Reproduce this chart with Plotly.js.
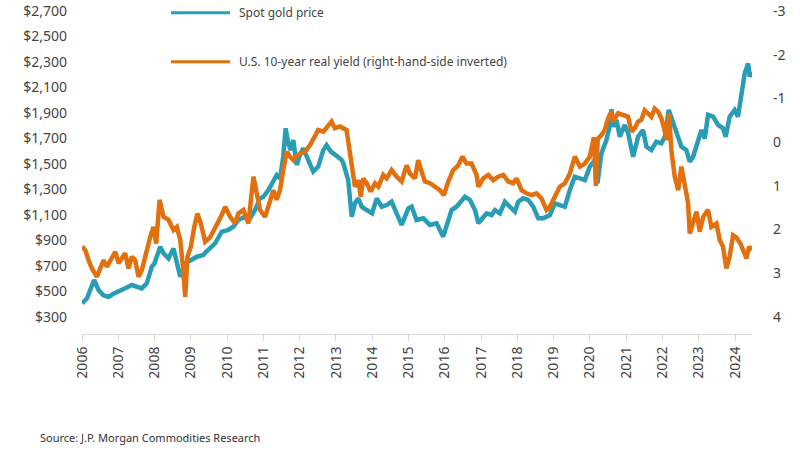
<!DOCTYPE html>
<html>
<head>
<meta charset="utf-8">
<script src="https://cdn.plot.ly/plotly-3.0.1.min.js"></script>
<style>html,body{margin:0;padding:0;background:#fff;}#chart{width:800px;height:453px;}</style>
</head>
<body>
<div id="chart"></div>
<script>
// ---- DATA ----
var goldDates = ["2006-01-01","2006-02-20","2006-05-03","2006-06-16","2006-08-05","2006-09-25","2006-11-14","2007-01-01","2007-03-12","2007-05-18","2007-07-07","2007-08-26","2007-10-15","2007-12-05","2008-01-01","2008-02-27","2008-04-01","2008-05-21","2008-07-10","2008-08-13","2008-09-16","2008-11-05","2009-01-01","2009-03-03","2009-05-08","2009-05-25","2009-09-02","2009-11-08","2010-01-08","2010-03-05","2010-04-24","2010-07-01","2010-08-20","2010-10-09","2010-11-28","2011-01-01","2011-02-20","2011-04-11","2011-05-15","2011-06-17","2011-07-20","2011-08-13","2011-09-09","2011-10-05","2011-10-29","2011-12-02","2011-12-28","2012-02-06","2012-03-28","2012-05-17","2012-07-06","2012-08-26","2012-09-28","2012-11-11","2012-12-28","2013-02-27","2013-03-16","2013-05-04","2013-06-08","2013-07-11","2013-08-14","2013-09-17","2013-11-06","2013-12-30","2014-02-15","2014-04-06","2014-05-26","2014-07-15","2014-09-03","2014-10-24","2014-12-30","2015-02-02","2015-03-23","2015-05-30","2015-08-05","2015-10-11","2015-12-16","2016-01-20","2016-03-10","2016-04-29","2016-06-19","2016-07-22","2016-09-11","2016-10-31","2016-12-04","2016-12-30","2017-02-25","2017-04-16","2017-05-20","2017-07-09","2017-08-28","2017-10-17","2017-12-07","2018-01-10","2018-03-01","2018-04-20","2018-06-09","2018-07-30","2018-09-18","2018-11-24","2019-01-13","2019-03-04","2019-04-24","2019-06-13","2019-08-02","2019-09-22","2019-11-11","2019-12-31","2020-02-20","2020-03-17","2020-04-26","2020-06-15","2020-07-19","2020-08-05","2020-08-22","2020-09-25","2020-10-28","2020-12-17","2021-01-20","2021-03-11","2021-04-30","2021-06-19","2021-07-23","2021-09-11","2021-10-31","2021-12-21","2022-01-24","2022-03-05","2022-04-18","2022-06-08","2022-07-10","2022-08-29","2022-10-02","2022-11-05","2022-12-09","2023-01-28","2023-03-02","2023-04-05","2023-05-25","2023-07-14","2023-09-02","2023-09-29","2023-11-08","2023-12-28","2024-01-31","2024-03-06","2024-04-08","2024-05-12","2024-05-28","2024-06-20"];
var goldPrice = [407,447,590,512,470,457,483,498,525,551,538,525,564,695,721,851,799,760,838,721,616,721,747,773,786,805,878,969,982,1008,1061,1087,1074,1139,1230,1243,1296,1361,1413,1387,1557,1780,1662,1609,1688,1492,1557,1623,1531,1440,1479,1609,1649,1597,1570,1531,1505,1374,1087,1192,1231,1165,1139,1113,1231,1165,1178,1204,1113,1022,1152,1165,1061,1074,1022,1035,930,1008,1139,1165,1218,1243,1218,1139,1035,1061,1113,1100,1139,1113,1204,1165,1126,1204,1231,1218,1165,1074,1074,1100,1192,1178,1165,1296,1400,1387,1374,1479,1531,1348,1583,1688,1793,1930,1793,1845,1714,1806,1741,1557,1714,1767,1636,1609,1675,1662,1714,1924,1819,1714,1636,1609,1518,1557,1649,1767,1701,1885,1871,1806,1780,1714,1871,1924,1871,2028,2211,2289,2185,2224];

var yieldDates = ["2006-01-01","2006-02-03","2006-03-08","2006-04-11","2006-05-31","2006-07-03","2006-08-06","2006-09-09","2006-10-12","2006-12-02","2007-01-04","2007-02-06","2007-03-12","2007-04-14","2007-05-18","2007-06-20","2007-07-24","2007-08-26","2007-09-28","2007-11-18","2007-12-22","2008-01-18","2008-02-21","2008-04-01","2008-05-21","2008-07-10","2008-08-13","2008-09-16","2008-10-13","2008-11-05","2008-11-28","2009-01-01","2009-02-04","2009-03-08","2009-04-11","2009-05-25","2009-07-13","2009-09-02","2009-11-08","2009-12-12","2010-01-31","2010-03-22","2010-04-24","2010-06-14","2010-08-03","2010-09-23","2010-10-26","2010-11-28","2011-01-18","2011-02-20","2011-04-11","2011-05-15","2011-06-17","2011-07-20","2011-08-23","2011-09-25","2011-10-29","2011-12-02","2012-01-04","2012-02-23","2012-04-14","2012-05-17","2012-07-06","2012-08-26","2012-10-15","2012-11-18","2012-12-21","2013-02-10","2013-04-17","2013-05-21","2013-06-17","2013-07-11","2013-08-14","2013-09-07","2013-10-03","2013-11-06","2013-12-16","2014-01-29","2014-03-03","2014-04-22","2014-05-26","2014-07-15","2014-09-03","2014-10-24","2014-12-13","2015-01-16","2015-03-07","2015-04-09","2015-05-13","2015-06-16","2015-08-05","2015-09-24","2015-11-13","2015-12-23","2016-02-05","2016-03-26","2016-05-16","2016-06-28","2016-08-07","2016-09-27","2016-11-16","2016-12-04","2017-01-23","2017-03-14","2017-05-03","2017-06-22","2017-08-11","2017-10-01","2017-11-20","2017-12-24","2018-02-12","2018-04-03","2018-05-23","2018-07-12","2018-09-01","2018-10-21","2018-11-24","2019-01-13","2019-03-04","2019-04-24","2019-06-13","2019-08-02","2019-09-22","2019-11-11","2019-12-31","2020-02-10","2020-03-01","2020-03-20","2020-04-26","2020-05-30","2020-07-02","2020-08-05","2020-08-22","2020-10-11","2020-11-30","2021-01-20","2021-02-23","2021-03-28","2021-04-30","2021-06-02","2021-07-06","2021-08-08","2021-09-11","2021-10-14","2021-11-17","2021-12-21","2022-01-24","2022-02-16","2022-03-08","2022-03-31","2022-05-04","2022-06-08","2022-07-10","2022-08-13","2022-09-16","2022-10-02","2022-11-05","2022-12-09","2023-01-11","2023-02-14","2023-04-05","2023-05-08","2023-06-28","2023-07-31","2023-09-02","2023-10-06","2023-11-08","2023-12-12","2024-01-14","2024-02-24","2024-03-22","2024-04-25","2024-05-21","2024-06-20"];
var realYield = [2.39,2.47,2.70,2.89,3.08,2.89,2.70,2.85,2.70,2.51,2.77,2.66,2.54,2.89,2.62,2.70,3.08,2.93,2.62,2.18,1.94,2.32,1.32,1.71,1.78,2.01,1.94,2.24,2.85,3.54,2.62,2.39,1.94,1.63,1.86,2.28,2.18,1.97,1.67,1.48,1.71,1.86,1.63,1.55,1.86,0.79,1.25,1.55,1.71,1.48,1.10,1.32,1.10,0.64,0.22,0.33,0.41,0.30,0.26,0.22,0.07,-0.08,-0.28,-0.24,-0.36,-0.47,-0.32,-0.36,-0.28,0.18,0.64,1.02,0.87,1.25,0.83,0.94,1.13,0.94,1.02,0.75,0.83,0.64,0.79,0.90,0.53,0.72,0.83,0.41,0.68,0.90,0.94,1.02,1.10,1.21,0.90,0.64,0.53,0.33,0.49,0.49,0.75,1.02,0.83,0.75,0.87,0.79,0.75,0.90,0.94,0.83,1.10,1.17,1.21,1.17,1.29,1.55,1.48,1.25,1.02,0.94,0.72,0.33,0.56,0.49,0.33,-0.11,1.00,-0.08,-0.16,-0.28,-0.54,-0.70,-0.47,-0.66,-0.62,-0.58,-0.24,-0.32,-0.47,-0.51,-0.73,-0.66,-0.58,-0.77,-0.70,-0.54,-0.28,-0.05,-0.66,0.18,0.79,1.10,0.56,0.94,1.40,2.09,1.86,1.59,2.05,1.71,1.55,1.94,1.86,2.24,2.39,2.89,2.62,2.13,2.18,2.32,2.47,2.66,2.39,2.47];

var leftTickVals = [300,500,700,900,1100,1300,1500,1700,1900,2100,2300,2500,2700];
var leftTickText = ["$300","$500","$700","$900","$1,100","$1,300","$1,500","$1,700","$1,900","$2,100","$2,300","$2,500","$2,700"];
var rightTickVals = [-3,-2,-1,0,1,2,3,4];
var rightTickText = ["-3","-2","-1","0","1","2","3","4"];
var seriesNames = ["Spot gold price","U.S. 10-year real yield (right-hand-side inverted)"];
var sourceText = "Source: J.P. Morgan Commodities Research";

// ---- STYLE ----
var BLUE = "#2a9db6", ORANGE = "#e2700f";
var FONT = "'Noto Sans', sans-serif";
var TXT = "#444444";

var traces = [
  {x: goldDates, y: goldPrice, name: seriesNames[0], type: "scatter", mode: "lines",
   line: {color: BLUE, width: 4.5}, yaxis: "y", showlegend: false},
  {x: yieldDates, y: realYield, name: seriesNames[1], type: "scatter", mode: "lines",
   line: {color: ORANGE, width: 4.5}, yaxis: "y2", showlegend: false}
];

var layout = {
  width: 800, height: 453,
  margin: {l: 82, r: 48, t: 11, b: 119},
  paper_bgcolor: "#ffffff", plot_bgcolor: "#ffffff",
  font: {family: FONT, color: TXT, size: 13},
  xaxis: {
    type: "date", range: ["2006-01-01", "2024-06-20"],
    tick0: "2006-01-01", dtick: "M12", tickformat: "%Y", tickangle: -90,
    ticks: "outside", ticklen: 6, tickcolor: "#d9d9d9",
    showline: true, linecolor: "#d9d9d9", linewidth: 1,
    showgrid: false, zeroline: false,
    tickfont: {family: FONT, size: 14, color: TXT}
  },
  yaxis: {
    range: [166.7, 2700], tickmode: "array", tickvals: leftTickVals, ticktext: leftTickText,
    showgrid: false, zeroline: false, showline: false, ticks: "",
    ticklabelstandoff: 14,
    tickfont: {family: FONT, size: 14, color: TXT}
  },
  yaxis2: {
    overlaying: "y", side: "right", range: [4.389, -3],
    tickmode: "array", tickvals: rightTickVals, ticktext: rightTickText,
    showgrid: false, zeroline: false, showline: false, ticks: "",
    ticklabelstandoff: 20,
    tickfont: {family: FONT, size: 14, color: TXT}
  },
  shapes: [
    {type: "line", xref: "paper", yref: "paper", x0: 0.1328, x1: 0.2209, y0: 0.9947, y1: 0.9947,
     line: {color: BLUE, width: 3}},
    {type: "line", xref: "paper", yref: "paper", x0: 0.1328, x1: 0.2209, y0: 0.843, y1: 0.843,
     line: {color: ORANGE, width: 3}}
  ],
  annotations: [
    {text: seriesNames[0], xref: "paper", yref: "paper", x: 0.2313, y: 0.9947,
     xanchor: "left", yanchor: "middle", showarrow: false, font: {family: FONT, size: 12, color: TXT}},
    {text: seriesNames[1], xref: "paper", yref: "paper", x: 0.2313, y: 0.843,
     xanchor: "left", yanchor: "middle", showarrow: false, font: {family: FONT, size: 12, color: TXT}},
    {text: sourceText, xref: "paper", yref: "paper", x: -0.0657, y: -0.319,
     xanchor: "left", yanchor: "middle", showarrow: false, font: {family: FONT, size: 11, color: "#333333"}}
  ]
};

Plotly.newPlot("chart", traces, layout, {displayModeBar: false, staticPlot: true});
</script>
</body>
</html>
